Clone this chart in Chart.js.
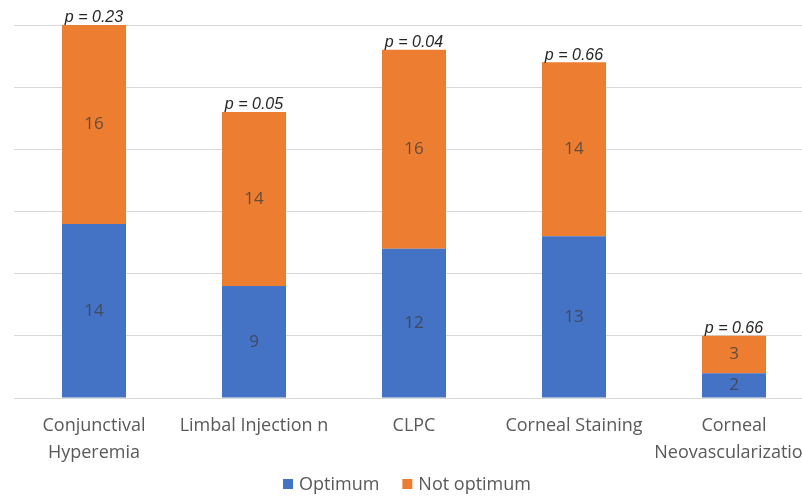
<!DOCTYPE html>
<html>
<head>
<meta charset="utf-8">
<style>
  html, body { margin: 0; padding: 0; background: #fff; overflow: hidden; }
  #wrap { width: 830px; height: 496px; }
</style>
<script src="https://cdn.jsdelivr.net/npm/chart.js@4/dist/chart.umd.min.js"></script>
</head>
<body>
<div id="wrap"><canvas id="chart" width="830" height="496"></canvas></div>
<script>
// Categories and counts per group
const categories = [
  ['Conjunctival', 'Hyperemia'],
  'Limbal Injection n',
  'CLPC',
  'Corneal Staining',
  ['Corneal', 'Neovascularization']
];
const optimum = [14, 9, 12, 13, 2];
const notOptimum = [16, 14, 16, 14, 3];
const pValues = ['p = 0.23', 'p = 0.05', 'p = 0.04', 'p = 0.66', 'p = 0.66'];

const FONT = '"Open Sans", sans-serif';

// Draws the count inside every segment and the p-value above each stack
const labelPlugin = {
  id: 'segmentLabels',
  afterDatasetsDraw(chart) {
    const ctx = chart.ctx;
    ctx.save();
    ctx.textAlign = 'center';
    ctx.textBaseline = 'middle';
    ctx.font = '17px ' + FONT;
    ctx.fillStyle = 'rgba(64,64,64,0.8)';
    chart.data.datasets.forEach((ds, di) => {
      const meta = chart.getDatasetMeta(di);
      meta.data.forEach((bar, i) => {
        const y = (bar.y + bar.base) / 2;
        ctx.fillText(String(ds.data[i]), bar.x, y);
      });
    });
    const top = chart.getDatasetMeta(chart.data.datasets.length - 1);
    ctx.font = 'italic 16px "Liberation Sans", sans-serif';
    ctx.fillStyle = '#262626';
    ctx.textBaseline = 'bottom';
    top.data.forEach((bar, i) => {
      ctx.fillText(pValues[i], bar.x, bar.y + 1);
    });
    ctx.restore();
  }
};

// Compact bottom legend: small square swatch, label, wide gap between entries
const bottomLegend = {
  id: 'bottomLegend',
  afterDraw(chart) {
    const ctx = chart.ctx;
    const box = 10, boxGap = 6, itemGap = 23, y = 485;
    ctx.save();
    ctx.font = '18px ' + FONT;
    ctx.textBaseline = 'middle';
    ctx.textAlign = 'left';
    const items = chart.data.datasets.map(ds => ({
      text: ds.label, color: ds.backgroundColor, w: ctx.measureText(ds.label).width
    }));
    const total = items.reduce((s, it) => s + box + boxGap + it.w, 0) + itemGap * (items.length - 1);
    let x = chart.chartArea.right / 2 - total / 2;
    items.forEach(it => {
      ctx.fillStyle = it.color;
      ctx.fillRect(x, y - box / 2 - 1, box, box);
      x += box + boxGap;
      ctx.fillStyle = '#595959';
      ctx.fillText(it.text, x, y);
      x += it.w + itemGap;
    });
    ctx.restore();
  }
};

new Chart(document.getElementById('chart'), {
  type: 'bar',
  data: {
    labels: categories,
    datasets: [
      { label: 'Optimum', data: optimum, backgroundColor: '#4472C4' },
      { label: 'Not optimum', data: notOptimum, backgroundColor: '#ED7D31' }
    ]
  },
  options: {
    responsive: false,
    animation: false,
    layout: { padding: { top: 25, left: 14, right: 16, bottom: 24 } },
    datasets: { bar: { categoryPercentage: 1, barPercentage: 0.4 } },
    scales: {
      x: {
        stacked: true,
        grid: { display: false },
        border: { color: '#d9d9d9' },
        ticks: {
          color: '#595959',
          font: { family: FONT, size: 18, lineHeight: 1.5 },
          maxRotation: 0,
          autoSkip: false,
          padding: 6
        }
      },
      y: {
        stacked: true,
        min: 0,
        max: 30,
        ticks: { display: false, stepSize: 5 },
        grid: { color: '#d9d9d9', drawTicks: false },
        border: { display: false }
      }
    },
    plugins: {
      legend: { display: false },
      tooltip: { enabled: false }
    }
  },
  plugins: [labelPlugin, bottomLegend]
});
</script>
</body>
</html>
